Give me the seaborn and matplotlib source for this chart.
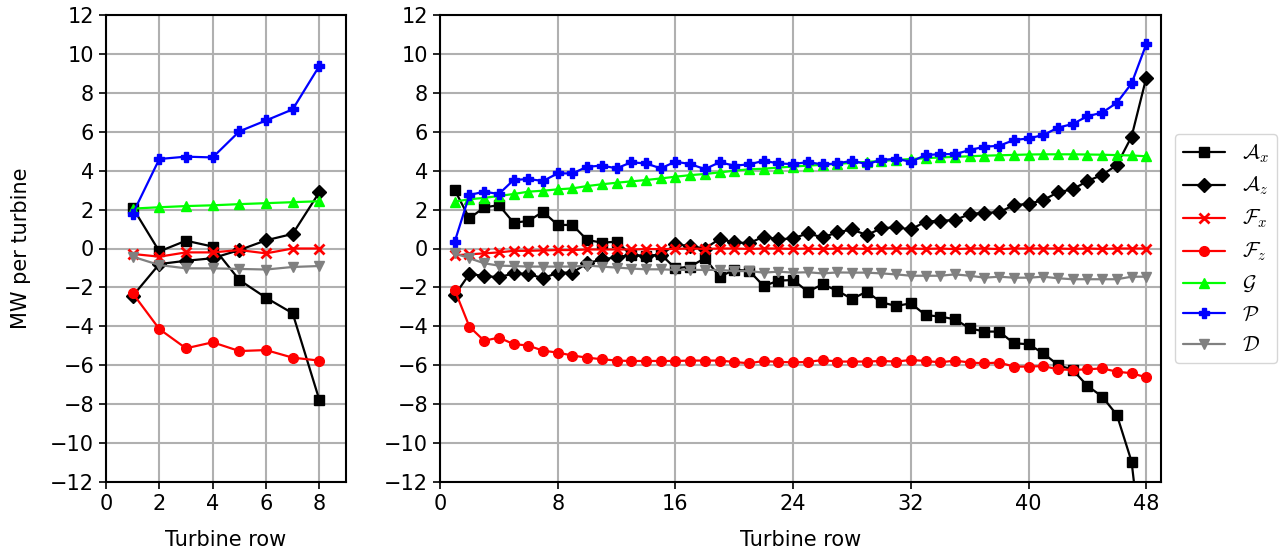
import numpy as np
import pandas as pd
import matplotlib
matplotlib.use('Agg')
import matplotlib.pyplot as plt
import seaborn as sns

# left panel: 8 rows
rows_8 = list(range(1, 9))
ax_8 = [2.1, -0.15, 0.4, 0.1, -1.62, -2.53, -3.33, -7.78]
az_8 = [-2.44, -0.8, -0.63, -0.5, -0.08, 0.42, 0.75, 2.89]
fx_8 = [-0.28, -0.42, -0.2, -0.2, -0.08, -0.25, 0.0, 0.0]
fz_8 = [-2.3, -4.14, -5.13, -4.82, -5.27, -5.22, -5.61, -5.76]
g_8 = [2.05, 2.12, 2.18, 2.22, 2.28, 2.33, 2.38, 2.43]
p_8 = [1.78, 4.6, 4.72, 4.68, 6.02, 6.58, 7.15, 9.38]
d_8 = [-0.42, -0.85, -1.02, -1.02, -1.05, -1.08, -0.95, -0.9]

# right panel: 48 rows
rows_48 = list(range(1, 49))
ax_48 = [3.0, 1.55, 2.11, 2.23, 1.33, 1.41, 1.89, 1.21, 1.21, 0.44,
         0.3, 0.35, -0.33, -0.4, -0.3, -1.02, -0.93, -0.5, -1.45, -1.1,
         -1.14, -1.93, -1.65, -1.62, -2.22, -1.84, -2.17, -2.59, -2.22, -2.77,
         -2.95, -2.82, -3.42, -3.5, -3.64, -4.1, -4.27, -4.27, -4.87, -4.92,
         -5.39, -5.98, -6.24, -7.06, -7.61, -8.55, -10.95, -17.5]
az_48 = [-2.4, -1.31, -1.41, -1.48, -1.28, -1.31, -1.53, -1.24, -1.24, -0.76,
         -0.56, -0.45, -0.33, -0.39, -0.33, 0.21, 0.13, 0.0, 0.49, 0.32,
         0.27, 0.61, 0.47, 0.52, 0.78, 0.57, 0.83, 0.98, 0.69, 1.04,
         1.09, 0.98, 1.38, 1.43, 1.46, 1.77, 1.84, 1.86, 2.23, 2.29,
         2.49, 2.89, 3.04, 3.47, 3.78, 4.29, 5.75, 8.78]
fx_48 = [-0.35, -0.3, -0.25, -0.2, -0.12, -0.12, -0.1, -0.08, -0.08, -0.05,
         -0.05, -0.05, -0.05, -0.03, -0.03, -0.02, 0.0, -0.02, 0.0, 0.0,
         -0.02, 0.0, 0.0, -0.02, 0.0, -0.03, 0.0, 0.0, -0.02, 0.0,
         0.0, 0.0, -0.02, 0.0, -0.03, 0.0, 0.0, -0.03, 0.0, 0.0,
         0.0, 0.0, -0.02, 0.0, -0.02, 0.0, 0.0, 0.0]
fz_48 = [-2.13, -4.02, -4.74, -4.58, -4.91, -4.99, -5.25, -5.35, -5.5, -5.61,
         -5.69, -5.76, -5.78, -5.78, -5.78, -5.78, -5.76, -5.76, -5.76, -5.83,
         -5.9, -5.78, -5.83, -5.85, -5.83, -5.73, -5.81, -5.81, -5.81, -5.78,
         -5.81, -5.73, -5.78, -5.85, -5.76, -5.86, -5.9, -5.86, -6.07, -6.07,
         -6.04, -6.21, -6.24, -6.21, -6.16, -6.33, -6.41, -6.62]
g_48 = [2.41, 2.53, 2.6, 2.7, 2.8, 2.92, 2.97, 3.04, 3.09, 3.21,
        3.3, 3.38, 3.45, 3.52, 3.6, 3.69, 3.77, 3.83, 3.91, 4.0,
        4.07, 4.1, 4.16, 4.21, 4.26, 4.3, 4.35, 4.4, 4.45, 4.5,
        4.55, 4.6, 4.64, 4.68, 4.71, 4.74, 4.77, 4.79, 4.81, 4.83,
        4.84, 4.84, 4.84, 4.83, 4.82, 4.8, 4.78, 4.74]
p_48 = [0.35, 2.75, 2.92, 2.8, 3.52, 3.57, 3.47, 3.86, 3.86, 4.2,
        4.26, 4.12, 4.43, 4.37, 4.12, 4.46, 4.34, 4.08, 4.43, 4.26,
        4.32, 4.51, 4.37, 4.34, 4.44, 4.32, 4.37, 4.51, 4.34, 4.55,
        4.61, 4.46, 4.8, 4.85, 4.85, 5.06, 5.23, 5.28, 5.57, 5.66,
        5.83, 6.21, 6.4, 6.8, 6.98, 7.49, 8.48, 10.5]
d_48 = [-0.25, -0.5, -0.76, -0.88, -0.9, -0.93, -0.93, -0.93, -0.93, -0.88,
        -0.93, -0.98, -1.03, -1.07, -1.07, -1.1, -1.1, -1.1, -1.1, -1.16,
        -1.16, -1.24, -1.19, -1.24, -1.22, -1.28, -1.23, -1.24, -1.24, -1.28,
        -1.33, -1.4, -1.4, -1.4, -1.33, -1.4, -1.5, -1.45, -1.5, -1.5,
        -1.45, -1.53, -1.58, -1.58, -1.58, -1.58, -1.45, -1.45]

labels = [r'$\mathcal{A}_x$', r'$\mathcal{A}_z$', r'$\mathcal{F}_x$', r'$\mathcal{F}_z$',
          r'$\mathcal{G}$', r'$\mathcal{P}$', r'$\mathcal{D}$']
colors = ['black', 'black', 'red', 'red', 'lime', 'blue', 'gray']
markers = ['s', 'D', 'x', 'o', '^', 'P', 'v']

sns.set_style('ticks')
plt.rcParams['font.family'] = ['DejaVu Sans']
plt.rcParams['mathtext.fontset'] = 'cm'
for k in ['text.color', 'axes.labelcolor', 'xtick.color', 'ytick.color']:
    plt.rcParams[k] = 'black'

fig = plt.figure(figsize=(12.82, 5.59), dpi=100)
ax1 = fig.add_axes([106 / 1282, 1 - 482 / 559, 240 / 1282, 467 / 559])
ax2 = fig.add_axes([440 / 1282, 1 - 482 / 559, 721 / 1282, 467 / 559])

panels = [
    (ax1, rows_8, [ax_8, az_8, fx_8, fz_8, g_8, p_8, d_8]),
    (ax2, rows_48, [ax_48, az_48, fx_48, fz_48, g_48, p_48, d_48]),
]

for ax, rows, series in panels:
    for vals, lab, col, mk in zip(series, labels, colors, markers):
        df = pd.DataFrame({'row': rows, 'mw': vals})
        sns.lineplot(data=df, x='row', y='mw', ax=ax, color=col, marker=mk,
                     markersize=7, markeredgewidth=2 if mk == 'x' else 1,
                     markeredgecolor=col, linewidth=1.6, label=lab, legend=False)
    ax.set_ylim(-12, 12)
    ax.set_yticks(np.arange(-12, 13, 2))
    ax.grid(True, color='#b0b0b0', linewidth=1.5)
    ax.set_axisbelow(True)
    ax.set_xlabel('Turbine row', fontsize=15, labelpad=12)
    ax.set_ylabel('')
    ax.tick_params(labelsize=15, width=1.2, length=5)
    for s in ax.spines.values():
        s.set_linewidth(1.5)
        s.set_color('black')

ax1.set_xlim(0, 9)
ax1.set_xticks([0, 2, 4, 6, 8])
ax2.set_xlim(0, 49)
ax2.set_xticks([0, 8, 16, 24, 32, 40, 48])
ax1.set_ylabel('MW per turbine', fontsize=15, labelpad=14)

h, l = ax2.get_legend_handles_labels()
ax2.legend(h, l, loc='center left', bbox_to_anchor=(1.005, 0.5), fontsize=15,
           frameon=True, handlelength=2.0)

fig.savefig('out.png', dpi=100)
